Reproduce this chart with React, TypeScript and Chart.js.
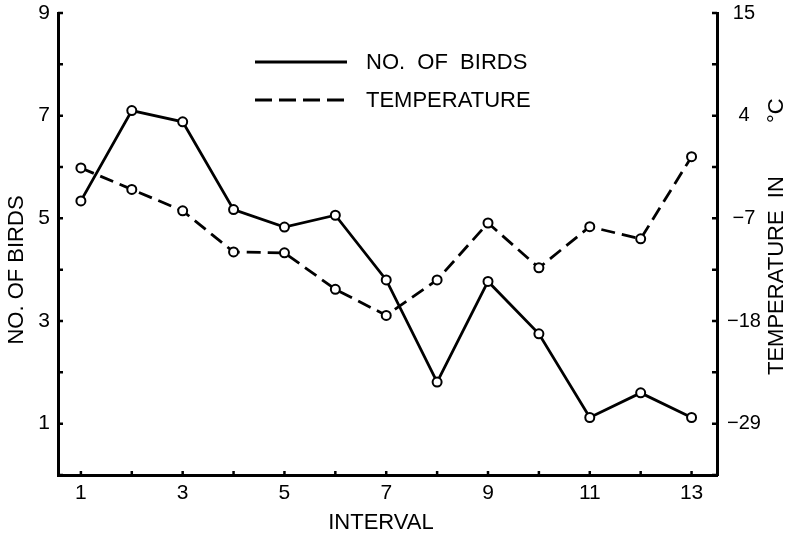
import React, { useEffect, useRef } from 'react';
import { Chart, registerables } from 'chart.js';

Chart.register(...registerables);

// ---- data ----
const intervals = [1, 2, 3, 4, 5, 6, 7, 8, 9, 10, 11, 12, 13];
const birds = [5.34, 7.1, 6.88, 5.17, 4.83, 5.06, 3.8, 1.81, 3.77, 2.75, 1.12, 1.6, 1.12];
const temperature = [-1.6, -3.9, -6.2, -10.6, -10.7, -14.6, -17.4, -13.6, -7.5, -12.3, -7.9, -9.2, -0.4];

const intervalLabels = [1, 3, 5, 7, 9, 11, 13];
const birdTickValues = [0, 1, 2, 3, 4, 5, 6, 7, 8, 9];
const birdLabels = [1, 3, 5, 7, 9];
const tempTickValues = [-34.5, -29, -23.5, -18, -12.5, -7, -1.5, 4, 9.5, 15];
const tempLabels = [-29, -18, -7, 4, 15];

const seriesNames = ['NO.  OF  BIRDS', 'TEMPERATURE'];
const xTitle = 'INTERVAL';
const yTitle = 'NO. OF BIRDS';
const y2TitleMain = 'TEMPERATURE  IN';
const y2TitleUnit = '°C';

const FONT = '"Liberation Sans", Arial, Helvetica, sans-serif';
const INK = '#000';

const innerTicks = {
  id: 'innerTicks',
  afterDraw(chart: any) {
    const { ctx, chartArea } = chart;
    const { left, right, bottom } = chartArea;
    const len = 5;
    ctx.save();
    ctx.strokeStyle = INK;
    ctx.lineWidth = 2.5;
    ctx.beginPath();
    const ys = chart.scales.y;
    ys.ticks.forEach((t: any) => {
      const p = ys.getPixelForValue(t.value);
      ctx.moveTo(left, p);
      ctx.lineTo(left + len, p);
    });
    const y2 = chart.scales.y2;
    y2.ticks.forEach((t: any) => {
      const p = y2.getPixelForValue(t.value);
      ctx.moveTo(right, p);
      ctx.lineTo(right - len, p);
    });
    const xs = chart.scales.x;
    xs.ticks.forEach((t: any) => {
      const p = xs.getPixelForValue(t.value);
      ctx.moveTo(p, bottom);
      ctx.lineTo(p, bottom - 4);
    });
    ctx.stroke();
    ctx.restore();
  },
};

const titlesAndLegend = {
  id: 'titlesAndLegend',
  afterDraw(chart: any) {
    const { ctx } = chart;
    ctx.save();
    ctx.fillStyle = INK;
    ctx.strokeStyle = INK;
    ctx.font = `22px ${FONT}`;
    ctx.textBaseline = 'middle';

    // x title
    ctx.textAlign = 'center';
    ctx.fillText(xTitle, 381, 523);

    // left title
    ctx.save();
    ctx.translate(17, 270);
    ctx.rotate(-Math.PI / 2);
    ctx.textAlign = 'center';
    ctx.fillText(yTitle, 0, 0);
    ctx.restore();

    // right title
    ctx.save();
    ctx.translate(777, 375);
    ctx.rotate(-Math.PI / 2);
    ctx.textAlign = 'left';
    ctx.fillText(y2TitleMain, 0, 0);
    ctx.fillText(y2TitleUnit, 252, 0);
    ctx.restore();

    // legend
    ctx.lineWidth = 2.8;
    ctx.beginPath();
    ctx.moveTo(255, 62);
    ctx.lineTo(347, 62);
    ctx.stroke();
    ctx.setLineDash([17, 7]);
    ctx.beginPath();
    ctx.moveTo(255, 100);
    ctx.lineTo(347, 100);
    ctx.stroke();
    ctx.setLineDash([]);
    ctx.textAlign = 'left';
    ctx.fillText(seriesNames[0], 366, 63);
    ctx.fillText(seriesNames[1], 366, 101);
    ctx.restore();
  },
};

const noPadV = (w: number) => (s: any) => {
  s.width = w;
  s.paddingTop = 0;
  s.paddingBottom = 0;
};

export default function App() {
  const ref = useRef<HTMLCanvasElement | null>(null);

  useEffect(() => {
    if (!ref.current) return;
    const chart = new Chart(ref.current, {
      type: 'line',
      data: {
        datasets: [
          {
            label: seriesNames[0],
            data: intervals.map((x, i) => ({ x, y: birds[i] })),
            yAxisID: 'y',
            borderColor: INK,
            borderWidth: 2.8,
            pointRadius: 4.5,
            pointBorderWidth: 2,
            pointBackgroundColor: '#fff',
            pointBorderColor: INK,
            tension: 0,
          },
          {
            label: seriesNames[1],
            data: intervals.map((x, i) => ({ x, y: temperature[i] })),
            yAxisID: 'y2',
            borderColor: INK,
            borderWidth: 2.8,
            borderDash: [14, 7],
            pointRadius: 4.5,
            pointBorderWidth: 2,
            pointBackgroundColor: '#fff',
            pointBorderColor: INK,
            tension: 0,
          },
        ],
      },
      options: {
        responsive: false,
        animation: false,
        layout: { padding: { top: 13, left: 0, right: 0, bottom: 0 } },
        plugins: {
          legend: { display: false },
          tooltip: { enabled: false },
          title: { display: false },
        },
        scales: {
          x: {
            type: 'linear',
            min: 0.55,
            max: 13.5,
            afterBuildTicks: (s: any) => {
              s.ticks = intervals.map((v) => ({ value: v }));
            },
            afterFit: (s: any) => {
              s.height = 61;
              s.paddingLeft = 0;
              s.paddingRight = 0;
            },
            grid: { display: false, drawTicks: false },
            border: { display: true, color: INK, width: 3 },
            ticks: {
              autoSkip: false,
              maxRotation: 0,
              padding: 6,
              color: INK,
              font: { family: FONT, size: 21 },
              callback: (v: any) => (intervalLabels.includes(Number(v)) ? String(v) : ''),
            },
          },
          y: {
            type: 'linear',
            position: 'left',
            min: 0,
            max: 9,
            afterBuildTicks: (s: any) => {
              s.ticks = birdTickValues.map((v) => ({ value: v }));
            },
            afterFit: noPadV(58),
            grid: { display: false, drawTicks: false },
            border: { display: true, color: INK, width: 3 },
            ticks: {
              autoSkip: false,
              padding: 8,
              color: INK,
              font: { family: FONT, size: 21 },
              callback: (v: any) => (birdLabels.includes(Number(v)) ? String(v) : ''),
            },
          },
          y2: {
            type: 'linear',
            position: 'right',
            min: -34.5,
            max: 15,
            afterBuildTicks: (s: any) => {
              s.ticks = tempTickValues.map((v) => ({ value: v }));
            },
            afterFit: noPadV(84),
            grid: { display: false, drawTicks: false },
            border: { display: true, color: INK, width: 3 },
            ticks: {
              autoSkip: false,
              padding: 10,
              crossAlign: 'center',
              color: INK,
              font: { family: FONT, size: 20 },
              callback: (v: any) => {
                const n = Number(v);
                if (!tempLabels.includes(n)) return '';
                return n < 0 ? '\u2212' + String(-n) : String(n);
              },
            },
          },
        },
      },
      plugins: [innerTicks, titlesAndLegend],
    } as any);
    return () => chart.destroy();
  }, []);

  return (
    <div style={{ position: 'fixed', left: 0, top: 0, width: 801, height: 536, background: '#fff' }}>
      <canvas ref={ref} width={801} height={536} style={{ display: 'block', width: 801, height: 536 }} />
    </div>
  );
}
